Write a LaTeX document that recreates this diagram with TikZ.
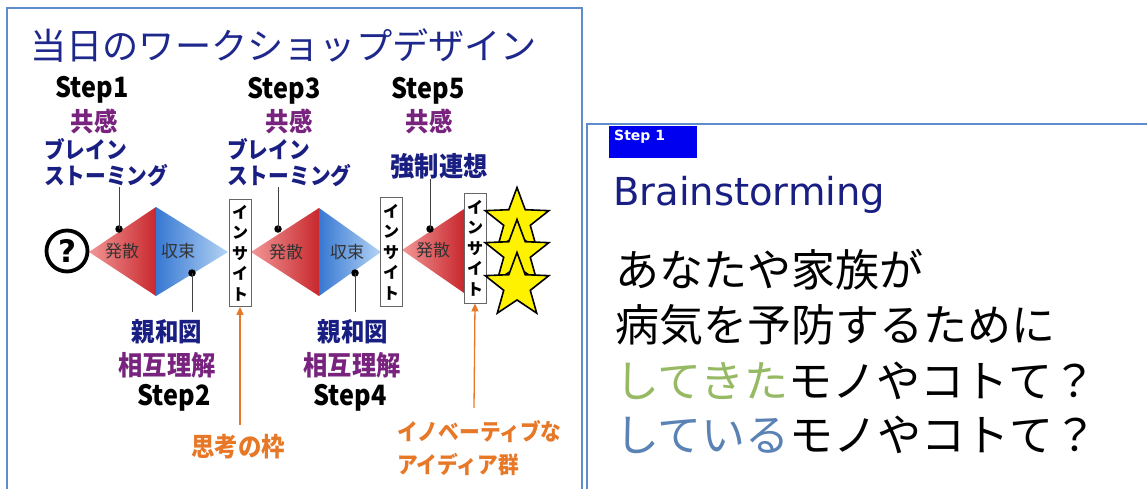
\documentclass[tikz,border=0pt]{standalone}
\usepackage{fontspec}
\usepackage{tikz}
\usetikzlibrary{shapes.geometric,arrows.meta}

\newfontfamily\jpfont{Noto Sans CJK JP}
\newfontfamily\jpcond{Noto Sans CJK JP}[FakeStretch=0.9]
\newfontfamily\dvfont{DejaVu Sans}
\newcommand{\pxsize}[1]{\fontsize{#1}{#1}\selectfont}

\definecolor{panelblue}{RGB}{95,140,205}
\definecolor{titlenavy}{RGB}{30,40,140}
\definecolor{lblnavy}{RGB}{25,30,130}
\definecolor{lblpurple}{RGB}{120,35,125}
\definecolor{lblorange}{RGB}{230,120,40}
\definecolor{divred}{RGB}{200,40,45}
\definecolor{divpink}{RGB}{242,150,150}
\definecolor{convblue}{RGB}{55,120,210}
\definecolor{convlight}{RGB}{180,212,245}
\definecolor{pastgreen}{RGB}{150,185,100}
\definecolor{nowblue}{RGB}{90,130,180}
\definecolor{stepboxblue}{RGB}{0,0,240}

\tikzset{
	panelline/.style={draw=panelblue, line width=1.6pt},
	steplbl/.style={inner sep=0pt, font=\jpcond\bfseries\pxsize{28}},
	kyokan/.style={inner sep=0pt, text=lblpurple, font=\jpcond\bfseries\pxsize{26}},
	navylbl/.style={inner sep=0pt, text=lblnavy, font=\jpcond\bfseries\pxsize{#1}},
	purplbl/.style={inner sep=0pt, text=lblpurple, font=\jpcond\bfseries\pxsize{27}},
	orangelbl/.style={inner sep=0pt, text=lblorange, font=\jpcond\bfseries\pxsize{#1}},
	phaselbl/.style={inner sep=0pt, text=black!80, font=\jpfont\pxsize{17}},
	insightbox/.style={draw=black!60, line width=0.8pt, fill=white, minimum width=22pt, minimum height=#1, inner sep=0pt, align=center, font=\jpfont\bfseries\fontsize{16}{20.5}\selectfont},
	dotc/.style={fill=black, circle, minimum size=7.5pt, inner sep=0pt},
	pointer/.style={draw=black!75, line width=0.9pt},
	orangearrow/.style={draw=lblorange, line width=1.3pt, -{Triangle[width=7pt,length=8pt]}},
	starnode/.style={star, star points=5, star point ratio=2.4, minimum size=67pt, inner sep=0pt, draw=black, line width=1.6pt, fill=yellow},
	jpline/.style={anchor=base west, inner sep=0pt, font=\jpfont\pxsize{44}}
}

\begin{document}
\begin{tikzpicture}[x=1pt, y=-1pt]
	\useasboundingbox (0,0) rectangle (1147,489);
	
	% frames
	\draw[panelline] (7,489) -- (7,8) -- (582,8) -- (582,489);
	\draw[panelline] (587,489) -- (587,124) -- (1147,124);
	
	\node[anchor=west, inner sep=0pt, text=titlenavy, font=\jpfont\pxsize{36.2}] (title) at (30,46) {当日のワークショップデザイン};
	
	% upper labels
	\node[steplbl] (step1) at (92,90) {Step1};
	\node[steplbl] (step3) at (284,91) {Step3};
	\node[steplbl] (step5) at (428,91) {Step5};
	
	\node[kyokan] (kyo1) at (94,121) {共感};
	\node[kyokan] (kyo3) at (289,121) {共感};
	\node[kyokan] (kyo5) at (429,121) {共感};
	
	\node[navylbl=23, anchor=west] (brain1) at (44,149) {ブレイン};
	\node[navylbl=23, anchor=west] (storm1) at (44,176) {ストーミング};
	\node[navylbl=23, anchor=west] (brain3) at (227,149) {ブレイン};
	\node[navylbl=23, anchor=west] (storm3) at (227,176) {ストーミング};
	\node[navylbl=27, anchor=center] (kyosei) at (439,166) {強制連想};
	
	% diamonds
	\shade[left color=divpink, right color=divred] (89,252) -- (156,207) -- (156,296) -- cycle;
	\shade[left color=convblue, right color=convlight] (156,207) -- (228,252) -- (156,296) -- cycle;
	
	\shade[left color=divpink, right color=divred] (251,252) -- (319,208) -- (319,296) -- cycle;
	\shade[left color=convblue, right color=convlight] (319,208) -- (381,252) -- (319,296) -- cycle;
	
	\shade[left color=divpink, right color=divred] (402,250) -- (464,209) -- (464,293) -- cycle;
	
	\node[phaselbl] (hassan1) at (122,251) {発散};
	\node[phaselbl] (shusoku1) at (178,251) {収束};
	\node[phaselbl] (hassan2) at (286,252) {発散};
	\node[phaselbl] (shusoku2) at (347,252) {収束};
	\node[phaselbl] (hassan3) at (433,250) {発散};
	
	\node[circle, draw=black, line width=3.8pt, minimum size=41pt, inner sep=0pt, font=\dvfont\bfseries\pxsize{31}] (question) at (67,251) {?};
	
	\node[insightbox=107pt] (ins1) at (240,253) {イ\\ン\\サ\\イ\\ト};
	\node[insightbox=109pt] (ins2) at (391,252) {イ\\ン\\サ\\イ\\ト};
	\node[insightbox=110pt] (ins3) at (475,248) {イ\\ン\\サ\\イ\\ト};
	
	\node[starnode] (star1) at (517,221) {};
	\node[starnode] (star2) at (517,253) {};
	\node[starnode] (star3) at (517,286) {};
	
	% pointers
	\node[dotc] (dot1) at (119,229) {};
	\node[dotc] (dot2) at (192,273) {};
	\node[dotc] (dot3) at (278,229) {};
	\node[dotc] (dot4) at (355,273) {};
	\node[dotc] (dot5) at (430,229) {};
	
	\coordinate (end2) at (192,312);
	\coordinate (end4) at (355,312);
	
	\draw[pointer] (dot1.center) -- (dot1 |- storm1.south);
	\draw[pointer] (dot3.center) -- (dot3 |- storm3.south);
	\draw[pointer] (dot5.center) -- (dot5 |- kyosei.south);
	\draw[pointer] (dot2.center) -- (end2);
	\draw[pointer] (dot4.center) -- (end4);
	
	% lower labels
	\node[navylbl=26] (shinwa1) at (167,332) {親和図};
	\node[purplbl] (sogo1) at (167,365) {相互理解};
	\node[steplbl] (step2) at (174,398) {Step2};
	
	\node[navylbl=26] (shinwa2) at (353,332) {親和図};
	\node[purplbl] (sogo2) at (352,365) {相互理解};
	\node[steplbl] (step4) at (350,398) {Step4};
	
	\node[orangelbl=26] (waku) at (238,447) {思考の枠};
	\node[orangelbl=23, anchor=west] (innov) at (397,432) {イノベーティブな};
	\node[orangelbl=23, anchor=west] (ideas) at (397,464) {アイディア群};
	
	\coordinate (tail1) at (240,425);
	\coordinate (tail3) at (474,408);
	\draw[orangearrow] (tail1) -- (ins1.south);
	\draw[orangearrow] (tail3) -- (ins3.south);
	
	% right slide
	\node[fill=stepboxblue, minimum width=88pt, minimum height=32pt, anchor=north west, inner sep=0pt] (stepbox) at (609,126) {};
	\node[anchor=west, inner sep=0pt, text=white, font=\dvfont\bfseries\pxsize{14}] (steptag) at (614,137) {Step 1};
	
	\node[anchor=base west, inner sep=0pt, text=lblnavy, font=\dvfont\pxsize{38.5}] (brainst) at (613,205) {Brainstorming};
	
	\node[jpline] (line1) at (615,286) {あなたや家族が};
	\node[jpline] (line2) at (615,341) {病気を予防するために};
	\node[jpline] (line3) at (615,397) {\textcolor{pastgreen}{してきた}モノやコトて？};
	\node[jpline] (line4) at (615,451) {\textcolor{nowblue}{している}モノやコトて？};
	
\end{tikzpicture}
\end{document}
